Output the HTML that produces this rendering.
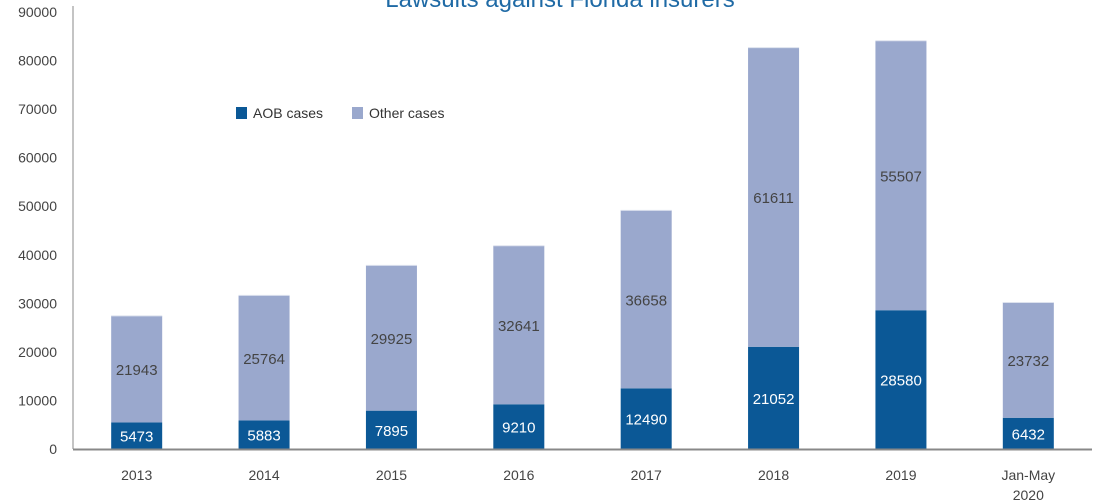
<!DOCTYPE html>
<html><head><meta charset="utf-8"><style>
body{margin:0;background:#fff;}
svg{display:block;font-family:"Liberation Sans",sans-serif;}
</style></head><body>
<svg id="chart" width="1100" height="500">
<text x="560" y="7" text-anchor="middle" font-size="24" fill="#1f6aa5">Lawsuits against Florida insurers</text>
<g id="yaxis"></g>
<g id="bars"></g>
<g id="xaxis"></g>
<g>
<g><rect x="236" y="107" width="11" height="12" fill="#0b5896"/><text x="253" y="118" font-size="14" fill="#333">AOB cases</text></g>
<g><rect x="352" y="107" width="11" height="12" fill="#9aa8cd"/><text x="369" y="118" font-size="14" fill="#333">Other cases</text></g>
</g>
</svg>
<script>
const categories=["2013","2014","2015","2016","2017","2018","2019","Jan-May|2020"];
const aobValues=[5473,5883,7895,9210,12490,21052,28580,6432];
const otherValues=[21943,25764,29925,32641,36658,61611,55507,23732];
const yTicks=[0,10000,20000,30000,40000,50000,60000,70000,80000,90000];
const NS="http://www.w3.org/2000/svg";
const x0=73,x1=1092,y0=449,yTop=12,yMax=90000;
const band=(x1-x0)/categories.length,barW=51;
const y=v=>y0-(v/yMax)*(y0-yTop);
const xc=i=>x0+band*(i+0.5);
function mk(tag,attrs,parent){const e=document.createElementNS(NS,tag);for(const k in attrs)e.setAttribute(k,attrs[k]);parent.appendChild(e);return e;}
const ya=document.getElementById('yaxis'),bars=document.getElementById('bars'),xa=document.getElementById('xaxis');
let l=mk('line',{x1:x0,y1:yTop-6,x2:x0,y2:y0,stroke:'#888','stroke-width':1},ya);


yTicks.forEach(t=>{const tx=mk('text',{x:57,y:y(t)+5,'text-anchor':'end','font-size':14,fill:'#444'},ya);tx.textContent=t;

});
categories.forEach((c,i)=>{
 const cx=xc(i);
 const a=mk('rect',{x:cx-barW/2,y:y(aobValues[i]),width:barW,height:y0-y(aobValues[i]),fill:'#0b5896'},bars);
 
 
 const tot=aobValues[i]+otherValues[i];
 const o=mk('rect',{x:cx-barW/2,y:y(tot),width:barW,height:y(aobValues[i])-y(tot),fill:'#9aa8cd'},bars);
 
 
 mk('line',{x1:cx-barW/2,x2:cx+barW/2,y1:y(tot),y2:y(tot),stroke:'#dde2ee','stroke-width':1},bars);
 const la=mk('text',{x:cx,y:(y(aobValues[i])+y0)/2+6,'text-anchor':'middle','font-size':15,fill:'#fff'},bars);la.textContent=aobValues[i];
 
 
 const lo=mk('text',{x:cx,y:(y(tot)+y(aobValues[i]))/2+6,'text-anchor':'middle','font-size':15,fill:'#444'},bars);lo.textContent=otherValues[i];
 
 
 c.split('|').forEach((p,j)=>{const t=mk('text',{x:cx,y:480+j*20,'text-anchor':'middle','font-size':14,fill:'#444'},xa);t.textContent=p;
 
 });
});
const b=mk('line',{x1:x0,y1:y0+0.5,x2:x1,y2:y0+0.5,stroke:'#888','stroke-width':2},xa);


</script>
</body></html>
